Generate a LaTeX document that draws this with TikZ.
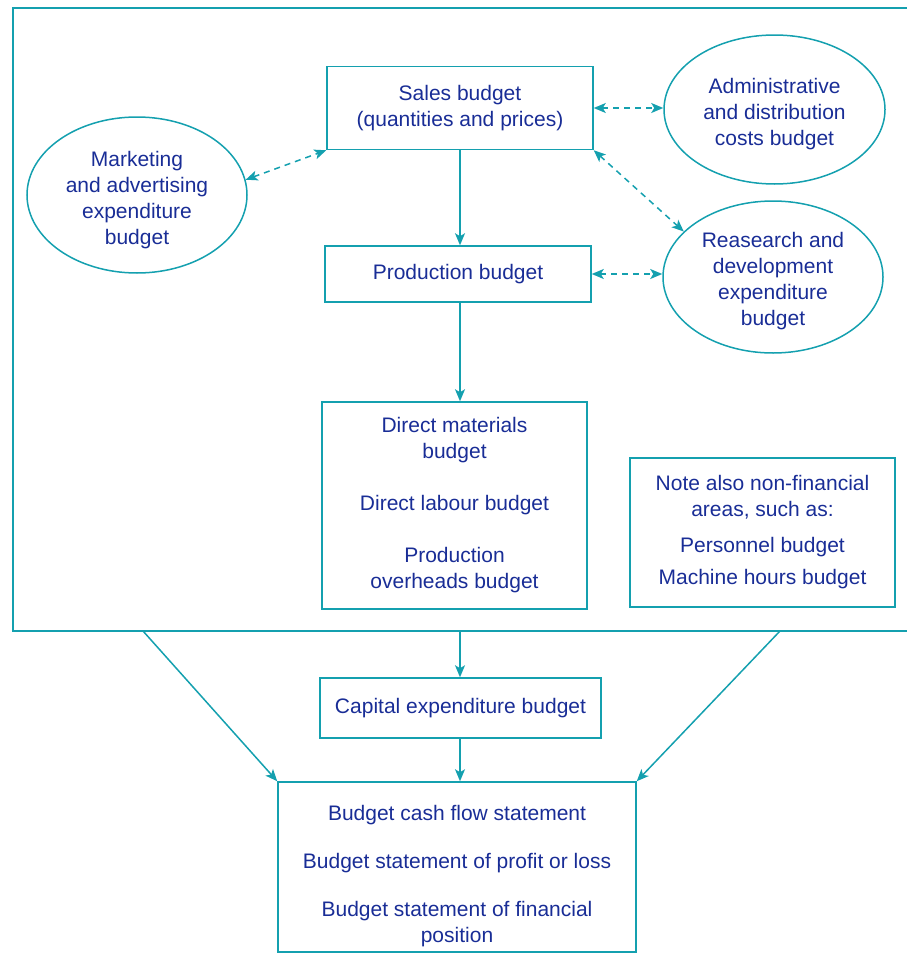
\documentclass[tikz,border=0pt]{standalone}
\usepackage{fontspec}
\setmainfont{Liberation Sans}
\usetikzlibrary{shapes.geometric,arrows.meta}
\definecolor{lineteal}{RGB}{20,160,175}
\definecolor{textblue}{RGB}{25,45,150}
\newcommand{\padtop}[1]{\rule{0pt}{#1}}
\tikzset{
  budgetbox/.style={rectangle, draw=lineteal, line width=0.75pt, inner sep=0pt, align=center, text=textblue},
  budgetoval/.style={ellipse, draw=lineteal, line width=0.75pt, inner sep=0pt, align=center, text=textblue},
  flow/.style={draw=lineteal, line width=0.75pt, -{Stealth[length=6pt,width=5pt,inset=1.5pt]}},
  link/.style={draw=lineteal, line width=0.75pt, dashed, dash pattern=on 3pt off 2.5pt, {Stealth[length=6pt,width=5pt,inset=1.5pt]}-{Stealth[length=6pt,width=5pt,inset=1.5pt]}}
}
\begin{document}
\begin{tikzpicture}[x=0.5pt, y=-0.5pt, font=\fontsize{10.5}{13}\selectfont]
    \useasboundingbox (0,0) rectangle (906,953);

    % 外枠
    \draw[draw=lineteal, line width=1pt] (13,8) rectangle (930,631);
    \coordinate (fl) at (143,631);
    \coordinate (fm) at (460,631);
    \coordinate (fr) at (780,631);

    % ノードを置く
    \node[budgetbox, minimum width=133pt, minimum height=41.5pt] (sales) at (460,108) {Sales budget\\(quantities and prices)};
    \node[budgetbox, minimum width=133pt, minimum height=28pt] (prod) at (458,274) {Production budget};
    \node[budgetbox, minimum width=132.5pt, minimum height=103.5pt] (direct) at (454.5,505.5) {Direct materials\\budget\\[13pt]Direct labour budget\\[13pt]Production\\overheads budget};
    \node[budgetbox, minimum width=132.5pt, minimum height=74.5pt] (note) at (762.5,532.5) {Note also non-financial\\areas, such as:\\[5pt]Personnel budget\\[3pt]Machine hours budget};
    \node[budgetbox, minimum width=140.5pt, minimum height=30pt] (capex) at (460.5,708) {Capital expenditure budget};
    \node[budgetbox, minimum width=179pt, minimum height=85pt] (cash) at (457,867) {\padtop{16.7pt}Budget cash flow statement\\[11pt]Budget statement of profit or loss\\[11pt]Budget statement of financial\\position};

    \node[budgetoval, minimum width=110pt, minimum height=78pt] (mkt) at (137,195) {\padtop{12.5pt}Marketing\\and advertising\\expenditure\\budget};
    \node[budgetoval, minimum width=110.5pt, minimum height=74.5pt] (adm) at (774.5,109.5) {\padtop{11.7pt}Administrative\\and distribution\\costs budget};
    \node[budgetoval, minimum width=110pt, minimum height=76pt] (res) at (773,277) {\padtop{11.7pt}Reasearch and\\development\\expenditure\\budget};

    % 矢印を引く
    \draw[flow] (fm |- sales.south) -- (fm |- prod.north);
    \draw[flow] (fm |- prod.south) -- (fm |- direct.north);
    \draw[flow] (fm) -- (fm |- capex.north);
    \draw[flow] (fm |- capex.south) -- (fm |- cash.north);
    \draw[flow] (fl) -- (cash.north west);
    \draw[flow] (fr) -- (cash.north east);

    % 点線の矢印
    \draw[link] (mkt.8) -- (sales.south west);
    \draw[link] (sales.east) -- (sales.east -| adm.west);
    \draw[link] (sales.south east) -- (res.153);
    \draw[link] (prod.east) -- (prod.east -| res.west);
\end{tikzpicture}
\end{document}
